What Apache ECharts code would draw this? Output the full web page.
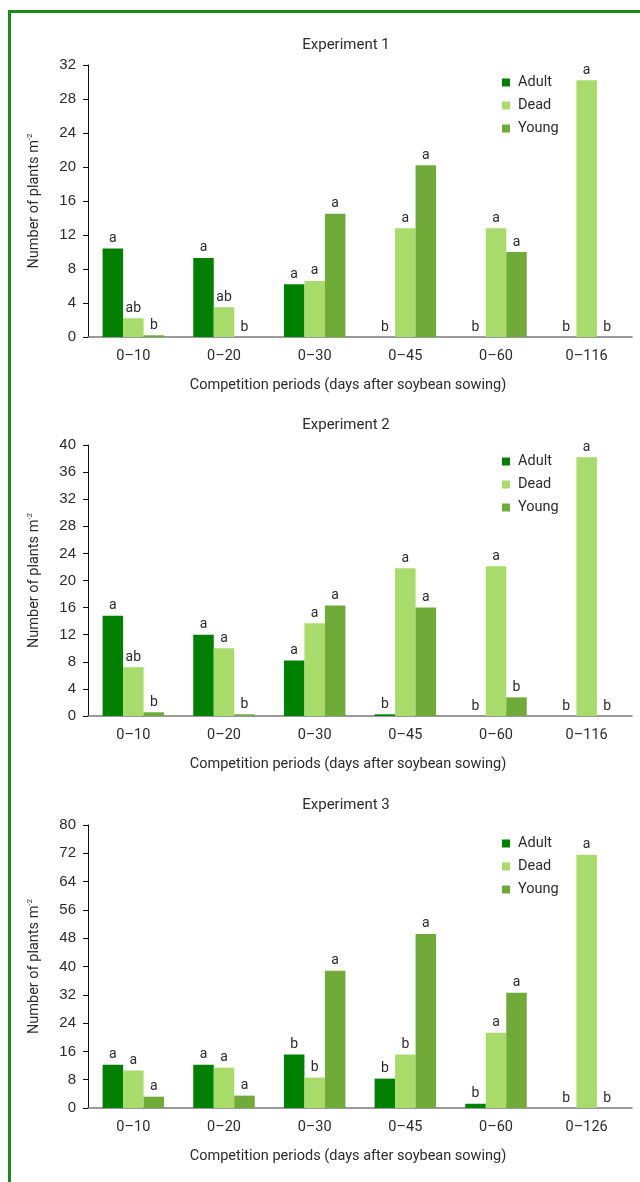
<!DOCTYPE html>
<html>
<head>
<meta charset="utf-8">
<title>Weed plants per competition period</title>
<script src="https://cdn.jsdelivr.net/npm/echarts@6/dist/echarts.min.js"></script>
<style>
  html, body { margin: 0; padding: 0; background: #ffffff; }
  #frame {
    position: absolute; left: 8px; top: 10px; width: 632px; height: 1172px;
    border-top: 3px solid #1b8a1b; border-left: 3px solid #1b8a1b; box-sizing: border-box;
  }
  #chart { position: absolute; left: 0; top: 0; width: 640px; height: 1182px; }
</style>
</head>
<body>
<div id="frame"></div>
<div id="chart"></div>
<script>
// Competition periods (days after soybean sowing)
const periods12 = ['0–10', '0–20', '0–30', '0–45', '0–60', '0–116'];
const periods3 = ['0–10', '0–20', '0–30', '0–45', '0–60', '0–126'];

// Experiment 1 (plants per m²)
const adult1 = [10.4, 9.3, 6.2, 0, 0, 0];
const dead1 = [2.2, 3.5, 6.6, 12.8, 12.8, 30.2];
const young1 = [0.2, 0, 14.5, 20.2, 10.0, 0];
const adultLetters1 = ['a', 'a', 'a', 'b', 'b', 'b'];
const deadLetters1 = ['ab', 'ab', 'a', 'a', 'a', 'a'];
const youngLetters1 = ['b', 'b', 'a', 'a', 'a', 'b'];

// Experiment 2
const adult2 = [14.8, 12.0, 8.2, 0.25, 0, 0];
const dead2 = [7.2, 10.0, 13.7, 21.8, 22.1, 38.2];
const young2 = [0.55, 0.25, 16.3, 16.0, 2.75, 0];
const adultLetters2 = ['a', 'a', 'a', 'b', 'b', 'b'];
const deadLetters2 = ['ab', 'a', 'a', 'a', 'a', 'a'];
const youngLetters2 = ['b', 'b', 'a', 'a', 'b', 'b'];

// Experiment 3
const adult3 = [12.2, 12.2, 15.1, 8.3, 1.2, 0];
const dead3 = [10.6, 11.4, 8.6, 15.1, 21.3, 71.6];
const young3 = [3.2, 3.5, 38.8, 49.2, 32.6, 0];
const adultLetters3 = ['a', 'a', 'b', 'b', 'b', 'b'];
const deadLetters3 = ['a', 'a', 'b', 'b', 'a', 'a'];
const youngLetters3 = ['a', 'a', 'a', 'a', 'a', 'b'];

// y-axis ranges
const yMax = [32, 40, 80];
const yStep = [4, 4, 8];

const colors = { Adult: '#008000', Dead: '#a8db6a', Young: '#70aa38' };
const textFont = 'Roboto, "Noto Sans", sans-serif';
const tickFont = '"Liberation Sans", Arial, sans-serif';

const panels = [
  { title: 'Experiment 1', cats: periods12, top: 65, height: 272, legendTop: 75,
    series: [[adult1, adultLetters1], [dead1, deadLetters1], [young1, youngLetters1]] },
  { title: 'Experiment 2', cats: periods12, top: 445, height: 271, legendTop: 454,
    series: [[adult2, adultLetters2], [dead2, deadLetters2], [young2, youngLetters2]] },
  { title: 'Experiment 3', cats: periods3, top: 825, height: 283, legendTop: 836,
    series: [[adult3, adultLetters3], [dead3, deadLetters3], [young3, youngLetters3]] }
];
const names = ['Adult', 'Dead', 'Young'];

const option = {
  animation: false,
  title: [], legend: [], grid: [], xAxis: [], yAxis: [], series: []
};

panels.forEach((p, i) => {
  option.title.push({
    text: p.title, left: 346, top: p.top - 27, textAlign: 'center', padding: 0,
    textStyle: { fontFamily: textFont, fontSize: 15, fontWeight: 'normal', color: '#2b2b2b' }
  });
  option.legend.push({
    data: names, orient: 'vertical', left: 502, top: p.legendTop, padding: 0,
    icon: 'rect', itemWidth: 8, itemHeight: 8, itemGap: 8,
    textStyle: { fontFamily: textFont, fontSize: 14.5, lineHeight: 14, color: '#2b2b2b', padding: [0, 0, 0, 3] }
  });
  option.grid.push({ left: 88, top: p.top, width: 544, height: p.height });
  option.xAxis.push({
    type: 'category', gridIndex: i, data: p.cats,
    name: 'Competition periods (days after soybean sowing)',
    nameLocation: 'middle', nameGap: 41,
    nameTextStyle: { fontFamily: textFont, fontSize: 14.5, color: '#2b2b2b', padding: [0, 24, 0, 0] },
    axisLine: { lineStyle: { color: '#7a7a7a', width: 1.5 } },
    axisTick: { length: 6, lineStyle: { color: '#555' } },
    axisLabel: { fontFamily: textFont, fontSize: 14.5, color: '#2b2b2b', margin: 12 }
  });
  option.yAxis.push({
    type: 'value', gridIndex: i, min: 0, max: yMax[i], interval: yStep[i],
    name: 'Number of plants m{sup|-2}',
    nameLocation: 'middle', nameGap: 46, nameRotate: 90,
    nameTextStyle: {
      fontFamily: textFont, fontSize: 14.5, color: '#2b2b2b',
      rich: { sup: { fontFamily: textFont, fontSize: 8, color: '#2b2b2b', verticalAlign: 'top', padding: [0, 0, 8, 0] } }
    },
    splitLine: { show: false },
    axisLine: { show: true, lineStyle: { color: '#111', width: 1 } },
    axisTick: { show: true, length: 5, lineStyle: { color: '#111' } },
    axisLabel: { fontFamily: tickFont, fontSize: 15, color: '#2b2b2b', margin: 12 }
  });
  p.series.forEach(([values, letters], k) => {
    option.series.push({
      name: names[k], type: 'bar', xAxisIndex: i, yAxisIndex: i,
      data: values, barWidth: 20.5, barGap: '0%',
      itemStyle: { color: colors[names[k]] },
      label: {
        show: true, position: 'top', distance: 3,
        fontFamily: textFont, fontSize: 14, color: '#2b2b2b',
        formatter: (d) => letters[d.dataIndex]
      }
    });
  });
});

const chart = echarts.init(document.getElementById('chart'));
chart.setOption(option);
</script>
</body>
</html>
